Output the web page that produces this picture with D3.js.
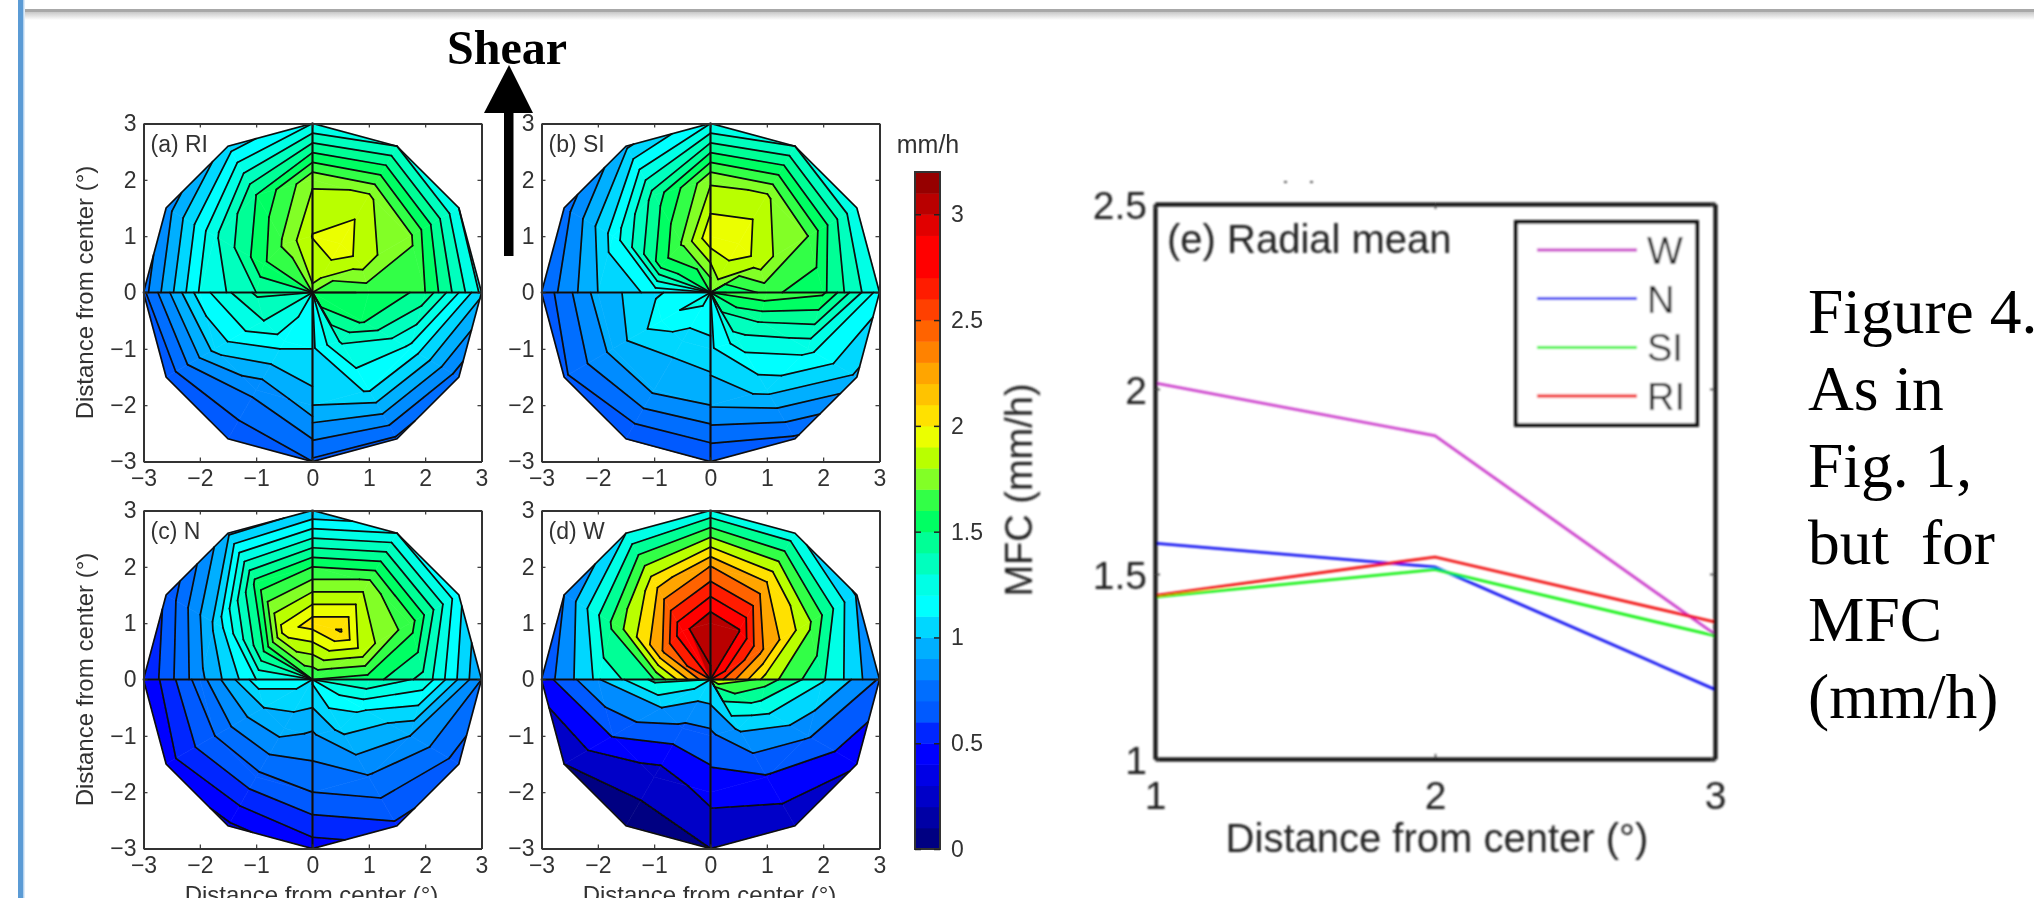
<!DOCTYPE html>
<html><head><meta charset="utf-8">
<script src="https://cdn.jsdelivr.net/npm/d3@7"></script>
<style>html,body{margin:0;padding:0;background:#fff;overflow:hidden}svg{display:block}</style>
</head><body><svg id="c" width="2034" height="898"></svg>
<script>
// ---- data: MFC (mm/h) on a polar grid; rows = azimuth (4 per quadrant), columns = radius
const radii=[0,1,2,3];
const azNE=[0,30,60,90], azNW=[90,120,150,180], azSW=[180,210,240,270], azSE=[270,300,330,360];
const riNE=[[1.5,1.63,1.6,1.18],[1.6,1.84,1.72,1.2],[1.72,1.99,1.81,1.3],[1.78,1.905,1.78,1.2]];
const riNW=[[1.78,1.905,1.78,1.2],[1.65,1.72,1.5,1.05],[1.5,1.58,1.28,.85],[1.5,1.4,1.21,.76]];
const riSW=[[1.4,1.42,1.15,.68],[1.3,1.3,1.03,.62],[1.25,1.15,.83,.62],[1.15,1.1,.95,.7]];
const riSE=[[1.09,1.08,1.0,.68],[1.58,1.31,1.11,.68],[1.6,1.52,1.17,.75],[1.6,1.58,1.47,1.02]];
const siNE=[[1.45,1.63,1.52,1.2],[1.5,1.84,1.7,1.2],[1.73,1.99,1.81,1.3],[1.6,1.98,1.78,1.2]];
const siNW=[[1.6,1.98,1.78,1.2],[1.5,1.71,1.44,.98],[1.4,1.55,1.14,.75],[1.15,1.13,1.0,.72]];
const siSW=[[1.2,1.08,.94,.63],[1.25,1.17,.93,.68],[1.26,1.04,.92,.6],[1.2,1.07,.9,.6]];
const siSE=[[1.1,1.08,.91,.6],[1.5,1.25,1.03,.68],[1.6,1.41,1.23,.98],[1.65,1.68,1.62,1.15]];
const nNE=[[1.5,1.55,1.36,.9],[1.6,1.86,1.65,1.13],[1.6,2.11,1.72,1.2],[1.6,2.05,1.6,1.01]];
const nNW=[[1.6,2.05,1.6,1.01],[1.6,1.95,1.53,.98],[1.5,1.5,1.02,.62],[1.3,1.2,.87,.5]];
const nSW=[[1.2,1.15,.75,.4],[1.15,1.0,.7,.45],[1.1,.95,.67,.38],[1.12,.88,.7,.45]];
const nSE=[[1.12,.88,.7,.45],[1.2,1.03,.79,.58],[1.3,1.12,.9,.65],[1.35,1.39,1.27,.8]];
const wNE=[[2.8,1.9,1.42,.82],[2.95,2.45,1.85,.98],[3.0,3.02,2.2,1.25],[2.95,3.15,2.41,1.25]];
const wNW=[[2.95,3.15,2.41,1.25],[3.0,2.95,2.1,1.2],[2.8,2.38,1.64,.8],[2.6,1.6,1.25,.66]];
const wSW=[[1.6,1.45,.98,.5],[1.3,1.0,.61,.2],[1.2,.75,.29,.1],[1.2,.74,.47,.2]];
const wSE=[[1.2,.75,.48,.2],[1.7,1.03,.58,.25],[1.9,1.3,.82,.42],[2.2,1.7,1.22,.78]];
const panelNames=["(a) RI","(b) SI","(c) N","(d) W"];
const axTicks=[-3,-2,-1,0,1,2,3];
const cbTicks=[0,.5,1,1.5,2,2.5,3];
const palette=["#000082","#0000a5","#0000c8","#0000e6","#0000ff","#0028ff","#005aff","#006eff","#008cff","#00afff","#00d7ff","#00ffff","#00ffe6","#00ffbe","#00ff96","#00ff64","#32ff46","#82ff28","#b9ff00","#ebff00","#ffe100","#ffc300","#ffa500","#ff8200","#ff6400","#ff4100","#ff1e00","#ff0000","#ff0000","#e10000","#b90000","#960000"];
const radialDist=[1,2,3];
const lineW=[2.016,1.874,1.337], lineN=[1.583,1.519,1.188], lineSI=[1.438,1.512,1.333], lineRI=[1.442,1.546,1.37];
const seriesNames=["W","N","SI","RI"];
const seriesColors=["#c832c8","#0000f0","#00f000","#f00000"];
const captionLines=["Figure 4.","As in","Fig. 1,","but  for","MFC","(mm/h)"];
// ---- helpers
const svg=d3.select("#c");
const defs=svg.append("defs");
defs.append("filter").attr("id","bl").attr("x","-5%").attr("y","-5%").attr("width","110%").attr("height","110%").append("feGaussianBlur").attr("stdDeviation",0.6);
defs.append("filter").attr("id","bl2").attr("x","-5%").attr("y","-5%").attr("width","110%").attr("height","110%").append("feGaussianBlur").attr("stdDeviation",0.8);
const sh=defs.append("linearGradient").attr("id","sh").attr("x1",0).attr("x2",0).attr("y1",0).attr("y2",1);
sh.append("stop").attr("offset",0).attr("stop-color","#c8c8c8");sh.append("stop").attr("offset",1).attr("stop-color","#fff");
svg.append("rect").attr("width",2034).attr("height",898).attr("fill","#fff");
svg.append("rect").attr("x",25).attr("y",12).attr("width",2009).attr("height",8).attr("fill","url(#sh)");
svg.append("rect").attr("x",25).attr("y",9).attr("width",2009).attr("height",3).attr("fill","#a8a8a8");
svg.append("rect").attr("x",18).attr("y",0).attr("width",5.5).attr("height",898).attr("fill","#5b9bd5");
svg.append("rect").attr("x",23.5).attr("y",0).attr("width",1).attr("height",898).attr("fill","#bcd8f2");

const colorOf=d3.scaleQuantize().domain([0,3.2]).range(palette);
function node(az,r,v){const a=az*Math.PI/180;return {x:r*Math.cos(a),y:r*Math.sin(a),v};}
function cellsOf(azs,grid){const out=[];
  for(let i=0;i<azs.length-1;i++)for(let j=0;j<radii.length-1;j++){
    out.push([node(azs[i],radii[j],grid[i][j]),node(azs[i+1],radii[j],grid[i+1][j]),node(azs[i+1],radii[j+1],grid[i+1][j+1]),node(azs[i],radii[j+1],grid[i][j+1])]);
  }return out;}
function lerp(a,b,t){const f=(t-a.v)/(b.v-a.v);return {x:a.x+(b.x-a.x)*f,y:a.y+(b.y-a.y)*f,v:t};}
function clip(poly,t,above){const out=[];const ins=p=>above?p.v>=t:p.v<=t;
  poly.forEach((p,i)=>{const q=poly[(i+1)%poly.length];
    if(ins(p))out.push(p);
    if(ins(p)!==ins(q))out.push(lerp(p,q,t));});
  return out;}
function crossings(cell,t){const c=[];cell.forEach((p,i)=>{const q=cell[(i+1)%4];
    if((p.v<t)!==(q.v<t))c.push(lerp(p,q,t));});
  const s=[];for(let k=0;k+1<c.length;k+=2)s.push([c[k],c[k+1]]);return s;}

const sans="'Liberation Sans',Arial,sans-serif";
function drawPanel(g,box,name,grids,step,showX,showY){
  const x=d3.scaleLinear().domain([-3,3]).range([box[0],box[1]]);
  const y=d3.scaleLinear().domain([-3,3]).range([box[3],box[2]]);
  const line=d3.line().x(d=>x(d.x)).y(d=>y(d.y));
  const cells=[[azNE,grids[0]],[azNW,grids[1]],[azSW,grids[2]],[azSE,grids[3]]].flatMap(([a,gd])=>cellsOf(a,gd));
  const levels=d3.range(0,Math.round(3.2/step)).map(k=>+(k*step).toFixed(1));
  const bands=[],segs=[];
  levels.forEach(L=>{cells.forEach(c=>{
    let p=clip(c,L,true);if(p.length>=3)p=clip(p,+(L+step).toFixed(1),false);
    if(p.length>=3)bands.push({L,p});
    if(L>0)crossings(c,L).forEach(s=>segs.push(s));
  });});
  g.append("g").selectAll("path").data(bands).join("path")
    .attr("d",d=>line(d.p)+"Z").attr("fill",d=>colorOf(d.L+0.01)).attr("stroke",d=>colorOf(d.L+0.01)).attr("stroke-width",.6);
  g.append("g").selectAll("path").data(segs).join("path").attr("d",line).attr("fill","none").attr("stroke","#0a0a0a").attr("stroke-width",1.7).attr("stroke-linecap","round");
  const outline=d3.range(0,360,30).map(a=>node(a,3,0));
  g.append("path").attr("d",line(outline)+"Z").attr("fill","none").attr("stroke","#111").attr("stroke-width",1.7);
  g.append("path").attr("d",line([{x:-3,y:0},{x:3,y:0}])).attr("stroke","#111").attr("stroke-width",2.2);
  g.append("path").attr("d",line([{x:0,y:-3},{x:0,y:3}])).attr("stroke","#111").attr("stroke-width",2.2);
  const fmt=d=>d<0?"\u2212"+(-d):""+d;
  const axStyle=a=>{a.select(".domain").attr("stroke","#333").attr("stroke-width",2);
    a.selectAll(".tick line").attr("stroke","#333").attr("stroke-width",1.2);
    a.selectAll("text").attr("fill","#333").attr("font-family",sans).attr("font-size",23);};
  const ab=g.append("g").attr("transform",`translate(0,${box[3]})`).call(d3.axisBottom(x).tickValues(axTicks).tickFormat(fmt).tickSizeInner(-4).tickSizeOuter(0).tickPadding(8));axStyle(ab);
  const al=g.append("g").attr("transform",`translate(${box[0]},0)`).call(d3.axisLeft(y).tickValues(axTicks).tickFormat(fmt).tickSizeInner(-4).tickSizeOuter(0).tickPadding(7));axStyle(al);
  const at=g.append("g").attr("transform",`translate(0,${box[2]})`).call(d3.axisTop(x).tickValues(axTicks).tickFormat("").tickSizeInner(-4).tickSizeOuter(0));axStyle(at);
  const ar=g.append("g").attr("transform",`translate(${box[1]},0)`).call(d3.axisRight(y).tickValues(axTicks).tickFormat("").tickSizeInner(-4).tickSizeOuter(0));axStyle(ar);
  g.append("text").attr("x",box[0]+7).attr("y",box[2]+28).attr("font-family",sans).attr("font-size",23).attr("fill","#333").text(name);
  if(showX)g.append("text").attr("x",(box[0]+box[1])/2-1).attr("y",box[3]+54).attr("text-anchor","middle").attr("font-family",sans).attr("font-size",24).attr("fill","#333").text("Distance from center (°)");
  if(showY)g.append("text").attr("transform",`translate(${box[0]-51},${(box[2]+box[3])/2}) rotate(-90)`).attr("text-anchor","middle").attr("font-family",sans).attr("font-size",24).attr("fill","#333").text("Distance from center (°)");
}
const plots=svg.append("g").attr("filter","url(#bl)");
drawPanel(plots.append("g"),[143.5,481.5,123.5,461.5],panelNames[0],[riNE,riNW,riSW,riSE],.1,false,true);
drawPanel(plots.append("g"),[541.5,879.5,123.5,461.5],panelNames[1],[siNE,siNW,siSW,siSE],.1,false,false);
drawPanel(plots.append("g"),[143.5,481.5,510.5,848.5],panelNames[2],[nNE,nNW,nSW,nSE],.1,true,true);
drawPanel(plots.append("g"),[541.5,879.5,510.5,848.5],panelNames[3],[wNE,wNW,wSW,wSE],.2,true,false);
// colorbar
{const cb=plots.append("g");
 const yc=d3.scaleLinear().domain([0,3.2]).range([849,172]);
 cb.selectAll("rect").data(palette).join("rect").attr("x",915).attr("width",25)
   .attr("y",(d,i)=>yc((i+1)/10)).attr("height",(d,i)=>yc(i/10)-yc((i+1)/10)+.5).attr("fill",d=>d);
 cb.append("rect").attr("x",915).attr("y",172).attr("width",25).attr("height",677).attr("fill","none").attr("stroke","#333").attr("stroke-width",2);
 const ax=cb.append("g").attr("transform","translate(940,0)").call(d3.axisRight(yc).tickValues(cbTicks).tickFormat(d3.format("")).tickSizeInner(-6).tickSizeOuter(0).tickPadding(11));
 ax.select(".domain").remove();ax.selectAll(".tick line").attr("stroke","#222").attr("stroke-width",1.5);
 ax.selectAll("text").attr("fill","#333").attr("font-family",sans).attr("font-size",23);
 const ax2=cb.append("g").attr("transform","translate(915,0)").call(d3.axisLeft(yc).tickValues(cbTicks).tickFormat("").tickSizeInner(-6).tickSizeOuter(0));
 ax2.select(".domain").remove();ax2.selectAll(".tick line").attr("stroke","#222").attr("stroke-width",1.5);
 cb.append("text").attr("x",928).attr("y",153).attr("text-anchor","middle").attr("font-family",sans).attr("font-size",25).attr("fill","#333").text("mm/h");
}
// line chart
{const g=svg.append("g").attr("filter","url(#bl2)");
 const x=d3.scaleLinear().domain([1,3]).range([1155,1715]);
 const y=d3.scaleLinear().domain([1,2.5]).range([759,204]);
 const line=d3.line().x((d,i)=>x(radialDist[i])).y(d=>y(d));
 [lineW,lineN,lineSI,lineRI].forEach((s,i)=>g.append("path").attr("d",line(s)).attr("fill","none").attr("stroke",seriesColors[i]).attr("stroke-width",2.6));
 const ab=g.append("g").attr("transform","translate(0,759)").call(d3.axisBottom(x).tickValues(radialDist).tickFormat(d3.format("d")).tickSizeInner(-5).tickSizeOuter(0).tickPadding(22));
 const al=g.append("g").attr("transform","translate(1155,0)").call(d3.axisLeft(y).tickValues([1,1.5,2,2.5]).tickFormat(d3.format("")).tickSizeInner(-5).tickSizeOuter(0).tickPadding(8));
 const at=g.append("g").attr("transform","translate(0,204)").call(d3.axisTop(x).tickValues(radialDist).tickFormat("").tickSizeInner(-5).tickSizeOuter(0));
 const ar=g.append("g").attr("transform","translate(1715,0)").call(d3.axisRight(y).tickValues([1,1.5,2,2.5]).tickFormat("").tickSizeInner(-5).tickSizeOuter(0));
 [ab,al,at,ar].forEach(a=>{a.select(".domain").attr("stroke","#0a0a0a").attr("stroke-width",4);a.selectAll(".tick line").attr("stroke","#333").attr("stroke-width",1.5);a.selectAll("text").attr("fill","#222").attr("font-family",sans).attr("font-size",39);});
 al.selectAll("text").attr("transform","translate(0,2)");
 g.append("text").attr("x",1437).attr("y",852).attr("text-anchor","middle").attr("font-family",sans).attr("font-size",40).attr("fill","#222").text("Distance from center (°)");
 g.append("text").attr("transform","translate(1032,490) rotate(-90)").attr("text-anchor","middle").attr("font-family",sans).attr("font-size",38).attr("fill","#222").text("MFC (mm/h)");
 g.append("text").attr("x",1167).attr("y",253).attr("font-family",sans).attr("font-size",40).attr("fill","#222").text("(e) Radial mean");
 g.append("rect").attr("x",1516).attr("y",222).attr("width",181).attr("height",203).attr("fill","#fff").attr("stroke","#0a0a0a").attr("stroke-width",4);
 const ly=d3.scalePoint().domain(seriesNames).range([250,396]);
 seriesNames.forEach((n,i)=>{
   g.append("line").attr("x1",1537).attr("x2",1637).attr("y1",ly(n)).attr("y2",ly(n)).attr("stroke",seriesColors[i]).attr("stroke-width",2.8);
   g.append("text").attr("x",1647).attr("y",ly(n)+14).attr("font-family",sans).attr("font-size",38).attr("fill","#222").text(n);
 });
 g.append("rect").attr("x",1284).attr("y",181).attr("width",3).attr("height",2).attr("fill","#555");
 g.append("rect").attr("x",1310).attr("y",181).attr("width",3).attr("height",2).attr("fill","#555");
}
// shear arrow and title
svg.append("rect").attr("x",504).attr("y",110).attr("width",9.5).attr("height",146).attr("fill","#000");
svg.append("path").attr("d",d3.line()([[509,65],[533,113],[484,113]])+"Z").attr("fill","#000");
svg.append("text").attr("x",447).attr("y",64).attr("font-family","'Liberation Serif',serif").attr("font-weight","bold").attr("font-size",48).attr("fill","#000").text("Shear");
// caption
svg.append("g").selectAll("text").data(captionLines).join("text").attr("x",1808).attr("y",(d,i)=>333+i*77)
  .style("white-space","pre").attr("font-family","'Liberation Serif',serif").attr("font-size",63.5).attr("fill","#000").text(d=>d);
</script></body></html>
